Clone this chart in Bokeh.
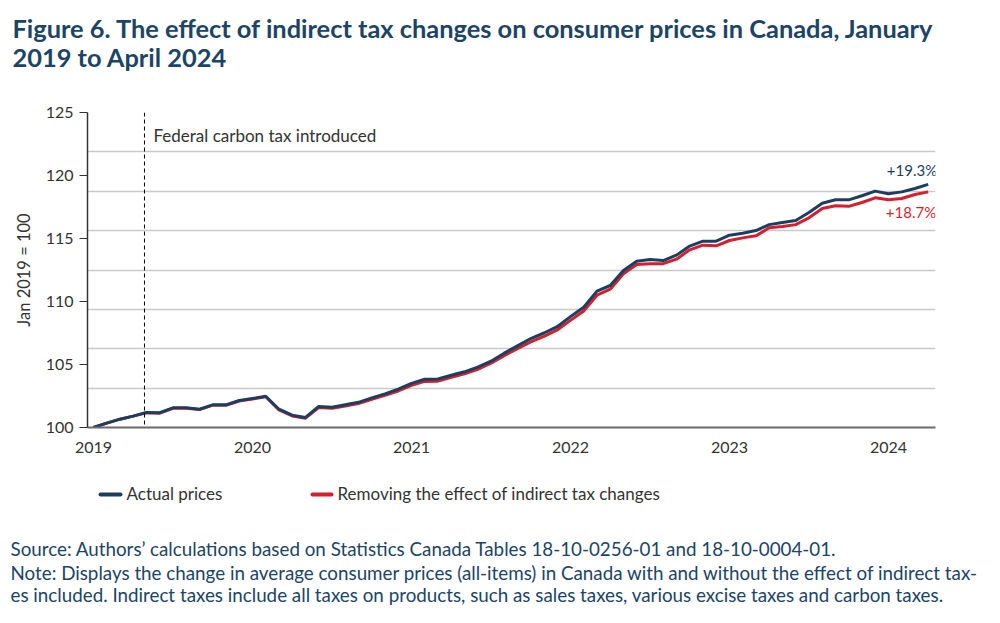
from bokeh.plotting import figure
from bokeh.layouts import column
from bokeh.models import ColumnDataSource, FixedTicker, Label, Span, Range1d
from bokeh.embed import file_html
from bokeh.resources import INLINE
from bokeh.core.properties import value

# ---------------- data ----------------
months = list(range(64))  # Jan 2019 .. Apr 2024
year_ticks = [0, 12, 24, 36, 48, 60]
year_labels = ["2019", "2020", "2021", "2022", "2023", "2024"]
y_ticks = [100, 105, 110, 115, 120, 125]
grid_levels = [100, 103.125, 106.25, 109.375, 112.5, 115.625, 118.75, 121.875, 125]

actual = [
    100.0, 100.35, 100.66, 100.9, 101.2, 101.17, 101.56, 101.56, 101.45, 101.8, 101.8, 102.14,
    102.3, 102.48, 101.45, 100.98, 100.8, 101.67, 101.6, 101.8, 102.0, 102.35, 102.67, 103.04,
    103.5, 103.83, 103.85, 104.15, 104.42, 104.79, 105.26, 105.9, 106.48, 107.06, 107.5, 108.0,
    108.8, 109.55, 110.82, 111.27, 112.46, 113.2, 113.33, 113.25, 113.68, 114.4, 114.79, 114.79,
    115.26, 115.42, 115.63, 116.1, 116.27, 116.43, 117.06, 117.8, 118.07, 118.07, 118.39, 118.76,
    118.55, 118.7, 118.97, 119.3,
]
no_tax = [
    100.0, 100.35, 100.66, 100.9, 101.17, 101.14, 101.53, 101.53, 101.42, 101.77, 101.77, 102.1,
    102.26, 102.44, 101.4, 100.92, 100.74, 101.58, 101.52, 101.71, 101.9, 102.24, 102.55, 102.9,
    103.35, 103.66, 103.68, 103.99, 104.26, 104.62, 105.1, 105.7, 106.26, 106.8, 107.24, 107.74,
    108.5, 109.24, 110.5, 110.98, 112.2, 112.93, 112.99, 113.0, 113.36, 114.1, 114.47, 114.42,
    114.84, 115.05, 115.21, 115.85, 115.95, 116.1, 116.64, 117.38, 117.6, 117.55, 117.86, 118.23,
    118.07, 118.17, 118.49, 118.7,
]
series_names = ["Actual prices", "Removing the effect of indirect tax changes"]
carbon_tax_month = 3.85
label_actual = "+19.3%"
label_notax = "+18.7%"
title_lines = ["Figure 6. The effect of indirect tax changes on consumer prices in Canada, January",
               "2019 to April 2024"]
note_lines = ["Source: Authors\u2019 calculations based on Statistics Canada Tables 18-10-0256-01 and 18-10-0004-01.",
              "Note: Displays the change in average consumer prices (all-items) in Canada with and without the effect of indirect tax-",
              "es included. Indirect taxes include all taxes on products, such as sales taxes, various excise taxes and carbon taxes."]

BLUE = "#1d3f5f"
RED = "#d61f2c"
NAVY = "#1b4467"
TXT = "#333333"
FONT = "Lato"
W = 992


def blank(h, y0):
    f = figure(width=W, height=h, output_backend="svg", toolbar_location=None,
               x_range=Range1d(0, W), y_range=Range1d(y0 + h, y0),
               x_axis_type=None, y_axis_type=None, min_border=0,
               min_border_left=0, min_border_right=0, min_border_top=0, min_border_bottom=0,
               frame_align=False)
    f.outline_line_color = None
    return f


# ---------------- header ----------------
head = blank(100, 0)
head.text(x=[12, 12], y=[27, 56], text=title_lines, text_font=value(FONT),
          text_font_size=value("25.4px"), text_font_style=value("bold"),
          text_color=NAVY, text_baseline=value("alphabetic"))

# ---------------- chart ----------------
src = ColumnDataSource(dict(m=months, a=actual, n=no_tax))
p = figure(width=W, height=367, output_backend="svg", toolbar_location=None,
           x_range=Range1d(-0.45, 63.55), y_range=Range1d(100, 125),
           min_border_left=87, min_border_right=W - 935, min_border_top=12,
           min_border_bottom=40, frame_align=False)
p.outline_line_color = None

p.xgrid.visible = False
p.ygrid.ticker = FixedTicker(ticks=grid_levels)
p.ygrid.grid_line_color = "#c9c9c9"
p.ygrid.grid_line_width = 1.5

p.xaxis.ticker = FixedTicker(ticks=year_ticks)
p.xaxis.major_label_overrides = {t: l for t, l in zip(year_ticks, year_labels)}
p.xaxis.major_tick_out = 0
p.xaxis.major_tick_in = 0
p.xaxis.minor_tick_out = 0
p.xaxis.minor_tick_in = 0
p.xaxis.axis_line_color = "#6b6b6b"
p.xaxis.axis_line_width = 2
p.xaxis.major_label_standoff = 14
p.xaxis.major_label_text_font = FONT
p.xaxis.major_label_text_font_size = "16px"
p.xaxis.major_label_text_color = TXT

p.yaxis.ticker = FixedTicker(ticks=y_ticks)
p.yaxis.major_tick_out = 8
p.yaxis.major_tick_in = 0
p.yaxis.minor_tick_out = 0
p.yaxis.minor_tick_in = 0
p.yaxis.major_tick_line_color = "#333333"
p.yaxis.axis_line_color = "#333333"
p.yaxis.axis_line_width = 1.5
p.yaxis.major_label_standoff = 6
p.yaxis.major_label_text_font = FONT
p.yaxis.major_label_text_font_size = "16px"
p.yaxis.major_label_text_color = TXT
p.yaxis.axis_label = "Jan 2019 = 100"
p.yaxis.axis_label_text_font = FONT
p.yaxis.axis_label_text_font_style = "normal"
p.yaxis.axis_label_text_font_size = "16.5px"
p.yaxis.axis_label_text_color = TXT
p.yaxis.axis_label_standoff = 9

p.add_layout(Span(location=carbon_tax_month, dimension="height", line_color="black",
                  line_width=1, line_dash="4 3"))
p.add_layout(Label(x=carbon_tax_month, y=125, x_offset=9, y_offset=-23,
                   text="Federal carbon tax introduced", text_font=FONT,
                   text_font_size="17px", text_color=TXT, text_baseline="alphabetic"))

p.line("m", "n", source=src, line_color=RED, line_width=3, line_join="round")
p.line("m", "a", source=src, line_color=BLUE, line_width=3, line_join="round")

p.add_layout(Label(x=months[-1], y=actual[-1], x_offset=9, y_offset=14, text=label_actual,
                   text_align="right", text_baseline="alphabetic", text_font=FONT,
                   text_font_size="15px", text_color=BLUE))
p.add_layout(Label(x=months[-1], y=no_tax[-1], x_offset=8, y_offset=-20, text=label_notax,
                   text_align="right", text_baseline="alphabetic", text_font=FONT,
                   text_font_size="15px", text_color=RED))

# ---------------- footer: legend + notes ----------------
foot = blank(148, 467)
foot.segment(x0=[100, 312], y0=[494, 494], x1=[120, 331], y1=[494, 494],
             line_color=[BLUE, RED], line_width=4, line_cap="round")
foot.text(x=[126, 337], y=[493, 493], text=series_names, text_font=value(FONT),
          text_font_size=value("17px"), text_color=TXT, text_baseline=value("alphabetic"))
foot.text(x=[10, 10, 10], y=[548, 572, 594], text=note_lines, text_font=value(FONT),
          text_font_size=value("18.8px"), text_color=NAVY, text_baseline=value("alphabetic"))

layout = column(head, p, foot, spacing=0)
open("out.html", "w").write(file_html(layout, INLINE))
